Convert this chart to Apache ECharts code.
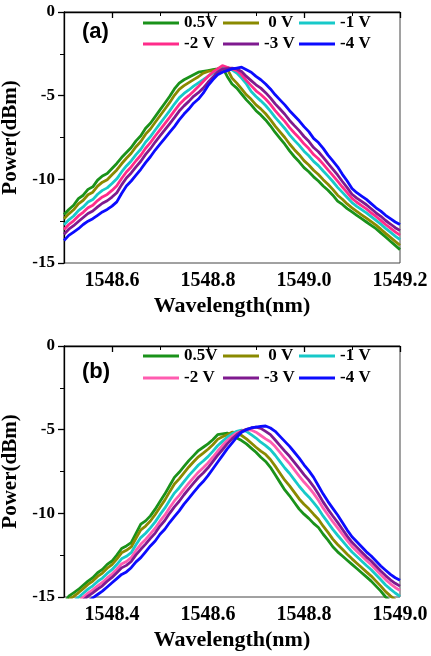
<!DOCTYPE html>
<html>
<head>
<meta charset="utf-8">
<script src="https://cdn.jsdelivr.net/npm/echarts@6/dist/echarts.min.js"></script>
<style>
  html, body { margin: 0; padding: 0; background: #fff; }
  #chart { width: 431px; height: 656px; }
</style>
</head>
<body>
<div id="chart"></div>
<script>
// ---------------- DATA ----------------
const seriesNames = ['0.5V', '0 V', '-1 V', '-2 V', '-3 V', '-4 V'];

// panel (a) wavelength samples (nm)
const wlA = [1548.50,1548.51,1548.52,1548.53,1548.54,1548.55,1548.56,1548.57,1548.58,1548.59,
  1548.60,1548.61,1548.62,1548.63,1548.64,1548.65,1548.66,1548.67,1548.68,1548.69,
  1548.70,1548.71,1548.72,1548.73,1548.74,1548.75,1548.76,1548.77,1548.78,1548.79,
  1548.80,1548.81,1548.82,1548.83,1548.84,1548.85,1548.86,1548.87,1548.88,1548.89,
  1548.90,1548.91,1548.92,1548.93,1548.94,1548.95,1548.96,1548.97,1548.98,1548.99,
  1549.00,1549.01,1549.02,1549.03,1549.04,1549.05,1549.06,1549.07,1549.08,1549.09,
  1549.10,1549.11,1549.12,1549.13,1549.14,1549.15,1549.16,1549.17,1549.18,1549.19,
  1549.20];

const a_p05 = [-12.10,-11.80,-11.55,-11.15,-10.95,-10.60,-10.45,-10.05,-9.80,-9.65,
  -9.35,-9.05,-8.70,-8.40,-8.10,-7.70,-7.40,-6.95,-6.65,-6.25,
  -5.85,-5.45,-5.05,-4.60,-4.25,-4.05,-3.90,-3.75,-3.60,-3.55,
  -3.50,-3.45,-3.40,-3.30,-3.85,-4.30,-4.55,-4.90,-5.25,-5.55,
  -5.90,-6.15,-6.45,-6.80,-7.20,-7.55,-7.90,-8.30,-8.65,-8.95,
  -9.30,-9.55,-9.85,-10.10,-10.40,-10.65,-10.95,-11.30,-11.50,-11.75,
  -11.95,-12.15,-12.35,-12.55,-12.75,-12.95,-13.20,-13.45,-13.70,-13.95,
  -14.20];
const a_0 = [-12.36,-12.06,-11.82,-11.46,-11.25,-10.92,-10.77,-10.41,-10.17,-10.02,
  -9.73,-9.44,-9.07,-8.74,-8.44,-8.05,-7.74,-7.30,-6.99,-6.59,
  -6.20,-5.81,-5.42,-4.98,-4.62,-4.40,-4.22,-4.04,-3.87,-3.65,
  -3.55,-3.50,-3.45,-3.35,-3.40,-3.95,-4.25,-4.60,-4.95,-5.22,
  -5.55,-5.79,-6.08,-6.43,-6.82,-7.16,-7.50,-7.89,-8.23,-8.53,
  -8.88,-9.14,-9.46,-9.71,-10.02,-10.29,-10.60,-10.95,-11.19,-11.47,
  -11.71,-11.92,-12.12,-12.32,-12.53,-12.74,-12.98,-13.23,-13.47,-13.71,
  -13.94];
const a_m1 = [-12.72,-12.42,-12.19,-11.87,-11.65,-11.36,-11.21,-10.89,-10.66,-10.51,
  -10.25,-9.97,-9.56,-9.20,-8.90,-8.52,-8.20,-7.77,-7.45,-7.05,
  -6.67,-6.29,-5.91,-5.50,-5.13,-4.87,-4.66,-4.43,-4.24,-4.05,
  -3.85,-3.65,-3.55,-3.40,-3.30,-3.45,-3.65,-3.95,-4.30,-4.75,
  -5.05,-5.31,-5.59,-5.92,-6.30,-6.63,-6.96,-7.34,-7.67,-7.97,
  -8.32,-8.59,-8.93,-9.18,-9.50,-9.81,-10.13,-10.48,-10.78,-11.09,
  -11.39,-11.61,-11.81,-12.01,-12.23,-12.45,-12.68,-12.93,-13.16,-13.39,
  -13.60];
const a_m2 = [-13.00,-12.70,-12.48,-12.19,-11.97,-11.70,-11.55,-11.27,-11.05,-10.90,
  -10.66,-10.38,-9.95,-9.56,-9.26,-8.89,-8.56,-8.14,-7.81,-7.41,
  -7.04,-6.67,-6.30,-5.91,-5.53,-5.24,-5.00,-4.74,-4.45,-4.15,
  -3.85,-3.60,-3.40,-3.20,-3.30,-3.40,-3.50,-3.75,-4.10,-4.40,
  -4.71,-4.93,-5.20,-5.52,-5.89,-6.22,-6.54,-6.91,-7.23,-7.53,
  -7.88,-8.16,-8.52,-8.77,-9.09,-9.43,-9.76,-10.11,-10.46,-10.79,
  -11.14,-11.37,-11.57,-11.77,-12.00,-12.22,-12.45,-12.70,-12.92,-13.14,
  -13.33];
const a_m3 = [-13.28,-12.98,-12.77,-12.52,-12.28,-12.04,-11.89,-11.65,-11.43,-11.28,
  -11.06,-10.80,-10.33,-9.92,-9.62,-9.26,-8.92,-8.51,-8.17,-7.77,
  -7.41,-7.05,-6.68,-6.31,-5.92,-5.61,-5.34,-5.04,-4.82,-4.55,
  -4.20,-3.90,-3.60,-3.42,-3.38,-3.35,-3.40,-3.55,-3.85,-4.10,
  -4.35,-4.55,-4.82,-5.13,-5.49,-5.80,-6.11,-6.48,-6.79,-7.09,
  -7.44,-7.73,-8.10,-8.35,-8.69,-9.05,-9.39,-9.74,-10.13,-10.50,
  -10.89,-11.12,-11.32,-11.52,-11.76,-12.00,-12.21,-12.46,-12.67,-12.89,
  -13.06];
const a_m4 = [-13.65,-13.35,-13.15,-12.95,-12.70,-12.50,-12.35,-12.15,-11.95,-11.80,
  -11.60,-11.35,-10.85,-10.40,-10.10,-9.75,-9.40,-9.00,-8.65,-8.25,
  -7.90,-7.55,-7.20,-6.85,-6.45,-6.10,-5.80,-5.45,-5.20,-4.85,
  -4.40,-4.05,-3.75,-3.60,-3.50,-3.40,-3.35,-3.30,-3.45,-3.60,
  -3.85,-4.05,-4.30,-4.60,-4.95,-5.25,-5.55,-5.90,-6.20,-6.50,
  -6.85,-7.15,-7.55,-7.80,-8.15,-8.55,-8.90,-9.25,-9.70,-10.10,
  -10.55,-10.80,-11.00,-11.20,-11.45,-11.70,-11.90,-12.15,-12.35,-12.55,
  -12.70];

// panel (b) wavelength samples (nm)
const wlB = [1548.30,1548.31,1548.32,1548.33,1548.34,1548.35,1548.36,1548.37,1548.38,1548.39,
  1548.40,1548.41,1548.42,1548.43,1548.44,1548.45,1548.46,1548.47,1548.48,1548.49,
  1548.50,1548.51,1548.52,1548.53,1548.54,1548.55,1548.56,1548.57,1548.58,1548.59,
  1548.60,1548.61,1548.62,1548.63,1548.64,1548.65,1548.66,1548.67,1548.68,1548.69,
  1548.70,1548.71,1548.72,1548.73,1548.74,1548.75,1548.76,1548.77,1548.78,1548.79,
  1548.80,1548.81,1548.82,1548.83,1548.84,1548.85,1548.86,1548.87,1548.88,1548.89,
  1548.90,1548.91,1548.92,1548.93,1548.94,1548.95,1548.96,1548.97,1548.98,1548.99,
  1549.00];

const b_p05 = [-15.40,-14.95,-14.75,-14.55,-14.30,-14.05,-13.85,-13.55,-13.35,-13.05,
  -12.85,-12.50,-12.10,-11.95,-11.75,-11.20,-10.65,-10.45,-10.15,-9.75,
  -9.30,-8.85,-8.35,-7.85,-7.55,-7.20,-6.85,-6.55,-6.25,-6.05,
  -5.85,-5.60,-5.30,-5.25,-5.20,-5.35,-5.50,-5.65,-5.85,-6.10,
  -6.35,-6.65,-6.90,-7.25,-7.70,-8.15,-8.60,-8.95,-9.35,-9.75,
  -10.05,-10.30,-10.60,-10.85,-11.25,-11.60,-12.00,-12.30,-12.55,-12.80,
  -13.05,-13.30,-13.55,-13.80,-14.05,-14.35,-14.65,-15.00,-15.25,-15.50,
  -15.75];
const b_0 = [-15.57,-15.16,-14.96,-14.75,-14.50,-14.25,-14.05,-13.77,-13.57,-13.28,
  -13.07,-12.74,-12.36,-12.21,-12.01,-11.49,-10.99,-10.76,-10.46,-10.07,
  -9.63,-9.21,-8.72,-8.25,-7.94,-7.58,-7.23,-6.92,-6.62,-6.40,
  -6.17,-5.90,-5.58,-5.42,-5.30,-5.15,-5.18,-5.35,-5.55,-5.80,
  -6.05,-6.28,-6.48,-6.78,-7.18,-7.60,-8.02,-8.36,-8.75,-9.14,
  -9.46,-9.73,-10.05,-10.35,-10.77,-11.14,-11.54,-11.86,-12.15,-12.44,
  -12.72,-12.98,-13.24,-13.50,-13.75,-14.05,-14.35,-14.68,-14.93,-15.17,
  -15.40];
const b_m1 = [-15.80,-15.45,-15.25,-15.03,-14.78,-14.53,-14.33,-14.07,-13.87,-13.59,
  -13.37,-13.06,-12.72,-12.57,-12.35,-11.88,-11.45,-11.19,-10.87,-10.51,
  -10.08,-9.69,-9.23,-8.79,-8.47,-8.10,-7.75,-7.43,-7.11,-6.87,
  -6.61,-6.30,-5.96,-5.70,-5.45,-5.25,-5.10,-5.02,-5.10,-5.30,
  -5.50,-5.75,-5.95,-6.19,-6.53,-6.91,-7.29,-7.62,-8.00,-8.38,
  -8.72,-9.02,-9.36,-9.72,-10.17,-10.56,-10.96,-11.31,-11.65,-11.99,
  -12.31,-12.58,-12.85,-13.12,-13.37,-13.67,-13.97,-14.28,-14.53,-14.76,
  -14.96];
const b_m2 = [-16.00,-15.70,-15.50,-15.27,-15.02,-14.77,-14.57,-14.33,-14.13,-13.86,
  -13.63,-13.34,-13.03,-12.88,-12.65,-12.22,-11.85,-11.56,-11.23,-10.89,
  -10.47,-10.11,-9.67,-9.26,-8.93,-8.55,-8.20,-7.87,-7.54,-7.28,
  -6.99,-6.65,-6.29,-5.95,-5.65,-5.40,-5.20,-5.08,-5.00,-5.02,
  -5.15,-5.35,-5.55,-5.72,-6.01,-6.36,-6.71,-7.03,-7.40,-7.77,
  -8.13,-8.45,-8.81,-9.22,-9.69,-10.10,-10.50,-10.87,-11.25,-11.63,
  -11.98,-12.26,-12.54,-12.82,-13.07,-13.37,-13.67,-13.96,-14.21,-14.43,
  -14.61];
const b_m3 = [-16.15,-15.89,-15.69,-15.45,-15.20,-14.95,-14.75,-14.53,-14.33,-14.06,
  -13.83,-13.55,-13.26,-13.11,-12.88,-12.48,-12.15,-11.84,-11.50,-11.18,
  -10.76,-10.43,-10.00,-9.61,-9.28,-8.89,-8.54,-8.20,-7.86,-7.59,
  -7.28,-6.91,-6.54,-6.20,-5.85,-5.55,-5.30,-5.10,-4.98,-4.90,
  -4.85,-4.92,-5.10,-5.30,-5.62,-5.95,-6.28,-6.59,-6.95,-7.31,
  -7.69,-8.02,-8.40,-8.85,-9.33,-9.76,-10.16,-10.54,-10.95,-11.36,
  -11.73,-12.02,-12.31,-12.60,-12.85,-13.15,-13.45,-13.72,-13.97,-14.18,
  -14.35];
const b_m4 = [-16.40,-16.20,-16.00,-15.75,-15.50,-15.25,-15.05,-14.85,-14.65,-14.40,
  -14.15,-13.90,-13.65,-13.50,-13.25,-12.90,-12.65,-12.30,-11.95,-11.65,
  -11.25,-10.95,-10.55,-10.20,-9.85,-9.45,-9.10,-8.75,-8.40,-8.10,
  -7.75,-7.35,-6.95,-6.55,-6.15,-5.80,-5.45,-5.15,-5.00,-4.90,
  -4.85,-4.80,-4.78,-4.90,-5.10,-5.40,-5.70,-6.00,-6.35,-6.70,
  -7.10,-7.45,-7.85,-8.35,-8.85,-9.30,-9.70,-10.10,-10.55,-11.00,
  -11.40,-11.70,-12.00,-12.30,-12.55,-12.85,-13.15,-13.40,-13.65,-13.85,
  -14.00];

const xTicksA = [1548.6, 1548.8, 1549.0, 1549.2];
const xTicksB = [1548.4, 1548.6, 1548.8, 1549.0];
const panelLabels = ['(a)', '(b)'];

// ---------------- STYLE ----------------
const colorsA = ['#1a921a', '#8a8a00', '#17c9c9', '#ff2b8a', '#7f1a8f', '#0b0bff'];
const colorsB = ['#1a921a', '#8a8a00', '#17c9c9', '#ff5cb0', '#7f1a8f', '#0b0bff'];
const SERIF = '"Liberation Serif", "Times New Roman", serif';

const grids = [
  { left: 64, right: 31, top: 12, height: 251 },
  { left: 64, right: 31, top: 346, height: 251 }
];
const panels = [
  { wl: wlA, vals: [a_p05, a_0, a_m1, a_m2, a_m3, a_m4], min: 1548.5, max: 1549.2, ticks: xTicksA, colors: colorsA, legendTop: [14, 35] },
  { wl: wlB, vals: [b_p05, b_0, b_m1, b_m2, b_m3, b_m4], min: 1548.3, max: 1549.0, ticks: xTicksB, colors: colorsB, legendTop: [347, 369] }
];

const xAxes = [], yAxes = [], series = [], legends = [];
const legendCols = [143, 223, 299];

panels.forEach((p, gi) => {
  xAxes.push({
    type: 'value', gridIndex: gi, position: 'bottom', min: p.min, max: p.max,
    axisLine: { lineStyle: { color: '#000', width: 1.3 } },
    axisTick: { customValues: p.ticks, length: 6, lineStyle: { color: '#000', width: 1.3 } },
    axisLabel: { customValues: p.ticks, formatter: v => v.toFixed(1), margin: 8,
      fontFamily: SERIF, fontWeight: 'bold', fontSize: 20, color: '#000' },
    splitLine: { show: false },
    name: 'Wavelength(nm)', nameLocation: 'middle', nameGap: 32,
    nameTextStyle: { fontFamily: SERIF, fontWeight: 'bold', fontSize: 22, color: '#000' }
  });
  xAxes.push({
    type: 'value', gridIndex: gi, position: 'bottom', min: p.min, max: p.max, interval: 0.1,
    axisLine: { show: false },
    axisTick: { length: 4, lineStyle: { color: '#000', width: 1 } },
    axisLabel: { show: false }, splitLine: { show: false }
  });
  yAxes.push({
    type: 'value', gridIndex: gi, position: 'left', min: -15, max: 0, interval: 5,
    axisLine: { show: true, lineStyle: { color: '#000', width: 1.3 } },
    axisTick: { show: true, length: 6, lineStyle: { color: '#000', width: 1.3 } },
    axisLabel: { margin: 9, fontFamily: SERIF, fontWeight: 'bold', fontSize: 17, color: '#000' },
    splitLine: { show: false },
    name: 'Power(dBm)', nameLocation: 'middle', nameGap: 37,
    nameTextStyle: { fontFamily: SERIF, fontWeight: 'bold', fontSize: 21, color: '#000' }
  });
  yAxes.push({
    type: 'value', gridIndex: gi, position: 'left', min: -15, max: 0, interval: 2.5,
    axisLine: { show: false },
    axisTick: { show: true, length: 4, lineStyle: { color: '#000', width: 1 } },
    axisLabel: { show: false }, splitLine: { show: false }
  });

  seriesNames.forEach((name, si) => {
    series.push({
      name, type: 'line', xAxisIndex: gi * 2, yAxisIndex: gi * 2,
      data: p.wl.map((x, k) => [x, p.vals[si][k]]),
      symbol: 'none', smooth: false, clip: true,
      lineStyle: { color: p.colors[si], width: 2.8 },
      itemStyle: { color: p.colors[si] },
      animation: false
    });
    const row = si < 3 ? 0 : 1, col = si % 3;
    legends.push({
      data: [{ name, itemStyle: { color: p.colors[si] } }],
      left: legendCols[col], top: p.legendTop[row],
      icon: 'rect', itemWidth: 36, itemHeight: 3, padding: 0, selectedMode: false,
      formatter: (si === 1) ? (n => ' ' + n) : (n => n),
      textStyle: { fontFamily: SERIF, fontWeight: 'bold', fontSize: 17, color: '#000', lineHeight: 18 }
    });
  });
});

const option = {
  animation: false,
  backgroundColor: '#fff',
  grid: grids.map(g => Object.assign({ show: true, borderColor: '#444', borderWidth: 1, backgroundColor: 'transparent', containLabel: false, outerBoundsMode: 'none' }, g)),
  xAxis: xAxes,
  yAxis: yAxes,
  legend: legends,
  series,
  graphic: [
    { type: 'text', left: 82, top: 21, style: { text: panelLabels[0], font: 'bold 22px "Liberation Sans", Arial, sans-serif', fill: '#000' } },
    { type: 'text', left: 82, top: 361, style: { text: panelLabels[1], font: 'bold 22px "Liberation Sans", Arial, sans-serif', fill: '#000' } }
  ]
};

const chart = echarts.init(document.getElementById('chart'), null, { renderer: 'canvas' });
chart.setOption(option);
</script>
</body>
</html>
